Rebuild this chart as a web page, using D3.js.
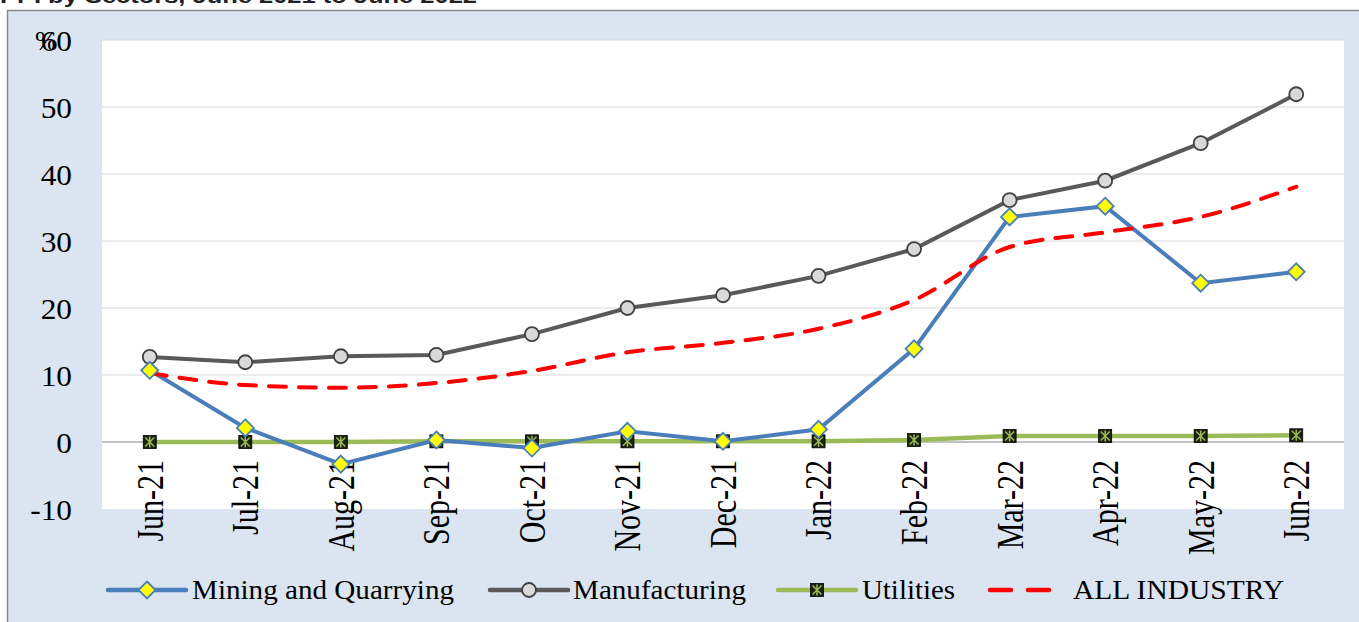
<!DOCTYPE html>
<html><head><meta charset="utf-8">
<script src="https://cdn.jsdelivr.net/npm/d3@7"></script>
<style>body{margin:0;background:#fff;}svg{display:block;}</style>
</head><body>
<svg id="c" width="1359" height="622"></svg>
<script>
const categories = ["Jun-21","Jul-21","Aug-21","Sep-21","Oct-21","Nov-21","Dec-21","Jan-22","Feb-22","Mar-22","Apr-22","May-22","Jun-22"];
const mining = [10.7, 2.1, -3.3, 0.3, -0.9, 1.6, 0.1, 1.9, 13.9, 33.6, 35.2, 23.7, 25.4];
const manufacturing = [12.7, 11.9, 12.8, 13.0, 16.1, 20.0, 21.9, 24.8, 28.8, 36.1, 39.0, 44.6, 51.9];
const utilities = [0.0, 0.0, 0.0, 0.1, 0.1, 0.1, 0.1, 0.1, 0.3, 0.9, 0.9, 0.9, 1.0];
const allIndustry = [10.3, 8.5, 8.1, 8.8, 10.6, 13.4, 14.8, 16.9, 21.2, 29.1, 31.3, 33.6, 38.1];
const yTicks = [-10, 0, 10, 20, 30, 40, 50, 60];
const seriesNames = ["Mining and Quarrying","Manufacturing","Utilities","ALL INDUSTRY"];
const title = "PPI by Sectors, June 2021 to June 2022";

const svg = d3.select("#c");
const serif = "'Liberation Serif','Times New Roman',serif";

// title (clipped at top)
svg.append("text").attr("x", 0).attr("y", 3).attr("font-family","'Liberation Sans',Arial,sans-serif")
  .attr("font-weight","bold").attr("font-size", 21).attr("fill","#222")
  .attr("textLength", 477).attr("lengthAdjust","spacingAndGlyphs").text(title);

// frame
svg.append("rect").attr("x",7).attr("y",10).attr("width",1352).attr("height",612).attr("fill","#dbe5f1");
svg.append("path").attr("d","M7.5,622V10.5H1359").attr("fill","none").attr("stroke","#8a8a8a").attr("stroke-width",1.5);

const L = 102, R = 1344, T = 40, B = 509;
svg.append("rect").attr("x",L).attr("y",T).attr("width",R-L).attr("height",B-T).attr("fill","#fff");

const x = d3.scalePoint().domain(categories).range([L, R]).padding(0.5);
const y = d3.scaleLinear().domain([-10, 60]).range([B, T]);

// gridlines
svg.append("g").selectAll("line").data(yTicks.filter(d => d !== 0 && d !== -10)).join("line")
  .attr("x1", L).attr("x2", R).attr("y1", d => y(d)).attr("y2", d => y(d))
  .attr("stroke","#d9d9d9").attr("stroke-width",1.2);
svg.append("line").attr("x1",L).attr("x2",R).attr("y1",y(0)).attr("y2",y(0)).attr("stroke","#868686").attr("stroke-width",1.2);

// y axis labels
const yAxis = d3.axisLeft(y).tickValues(yTicks).tickSize(0).tickPadding(0).tickFormat(d => String(d));
const yg = svg.append("g").attr("transform", `translate(72,0)`).call(yAxis);
yg.select(".domain").remove();
yg.selectAll("text").attr("font-family", serif).attr("font-size", 29).attr("fill","#000")
  .attr("x", null).attr("dy","0.35em").attr("transform","scale(1.08,1)");
svg.append("text").attr("x",35).attr("y",y(60)+10).attr("font-family",serif).attr("font-size",27).attr("fill","#000").text("%");

// x axis labels
const xAxis = d3.axisBottom(x).tickSize(0).tickPadding(0);
const xg = svg.append("g").attr("transform", `translate(0,${y(0)})`).call(xAxis);
xg.select(".domain").remove();
xg.selectAll("text").attr("font-family", serif).attr("font-size", 30).attr("fill","#000")
  .attr("text-anchor","end")
  .attr("transform","translate(0,18) rotate(-90) scale(1,1.25)").attr("x",0).attr("y",0).attr("dy","0.33em");

const line = d3.line().x((d,i) => x(categories[i])).y(d => y(d));
const smooth = d3.line().x((d,i) => x(categories[i])).y(d => y(d)).curve(d3.curveMonotoneX);

// series lines
svg.append("path").datum(utilities).attr("d", line).attr("fill","none").attr("stroke","#9bbb59").attr("stroke-width",4.5);
svg.append("path").datum(manufacturing).attr("d", line).attr("fill","none").attr("stroke","#595959").attr("stroke-width",4);
svg.append("path").datum(mining).attr("d", line).attr("fill","none").attr("stroke","#4a7ebb").attr("stroke-width",4);

function diamond(g, cx, cy){
  g.append("path").attr("d", `M${cx},${cy-8.5}L${cx+8.5},${cy}L${cx},${cy+8.5}L${cx-8.5},${cy}Z`)
   .attr("fill","#ffff00").attr("stroke","#4a7ebb").attr("stroke-width",1.8);
}
function circle(g, cx, cy){
  g.append("circle").attr("cx",cx).attr("cy",cy).attr("r",7).attr("fill","#d9d9d9").attr("stroke","#404040").attr("stroke-width",1.8);
}
function square(g, cx, cy){
  g.append("rect").attr("x",cx-6.5).attr("y",cy-6.5).attr("width",13).attr("height",13).attr("fill","#1a2410").attr("stroke","#000").attr("stroke-width",0.8);
  g.append("path").attr("d",`M${cx-4.5},${cy-4.5}L${cx+4.5},${cy+4.5}M${cx+4.5},${cy-4.5}L${cx-4.5},${cy+4.5}M${cx},${cy-5.5}V${cy+5.5}`)
   .attr("stroke","#9bbb59").attr("stroke-width",1.5);
}

const mg = svg.append("g");
utilities.forEach((d,i) => square(mg, x(categories[i]), y(d)));
manufacturing.forEach((d,i) => circle(mg, x(categories[i]), y(d)));
svg.append("path").datum(allIndustry).attr("d", smooth).attr("fill","none").attr("stroke","#ff0000")
  .attr("stroke-width",4).attr("stroke-dasharray","17,13").attr("stroke-linecap","round");
const dg = svg.append("g");
mining.forEach((d,i) => diamond(dg, x(categories[i]), y(d)));

// legend
const ly = 590;
const lg = svg.append("g");
const legendItems = [
  {name: seriesNames[0], x0: 108, tx: 192, tw: 262, color: "#4a7ebb", mark: diamond},
  {name: seriesNames[1], x0: 490, tx: 573, tw: 173, color: "#595959", mark: circle},
  {name: seriesNames[2], x0: 778, tx: 862, tw: 93, color: "#9bbb59", mark: square},
];
function legendText(tx, tw, txt){
  lg.append("text").attr("x", tx).attr("y", ly).attr("dy","0.35em").attr("font-family",serif).attr("font-size",27)
    .attr("fill","#000").attr("textLength", tw).attr("lengthAdjust","spacingAndGlyphs").text(txt);
}
legendItems.forEach(it => {
  lg.append("line").attr("x1", it.x0).attr("x2", it.x0+78).attr("y1", ly).attr("y2", ly).attr("stroke", it.color).attr("stroke-width",4.5).attr("stroke-linecap","round");
  it.mark(lg, it.x0+39, ly);
  legendText(it.tx, it.tw, it.name);
});
lg.append("line").attr("x1",990).attr("x2",1050).attr("y1",ly).attr("y2",ly).attr("stroke","#ff0000").attr("stroke-width",4.5)
  .attr("stroke-dasharray","21,17").attr("stroke-linecap","round");
legendText(1073, 211, seriesNames[3]);
</script>
</body></html>
